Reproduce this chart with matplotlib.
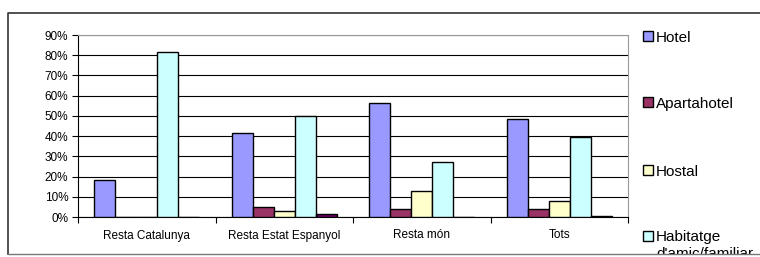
import matplotlib
matplotlib.use("Agg")
import matplotlib.pyplot as plt
import numpy as np
from matplotlib.patches import Rectangle
from matplotlib.lines import Line2D

plt.rcParams['font.family'] = ['Liberation Sans', 'DejaVu Sans']

categories = ['Resta Catalunya', 'Resta Estat Espanyol', 'Resta món', 'Tots']
series_names = ['Hotel', 'Apartahotel', 'Hostal', "Habitatge\nd'amic/familiar", 'Altres']
hotel = [18.2, 41.6, 56.3, 48.5]
apartahotel = [0.0, 4.8, 3.8, 4.1]
hostal = [0.0, 3.0, 13.0, 8.0]
habitatge = [81.8, 50.1, 27.0, 39.6]
altres = [0.0, 1.3, 0.0, 0.4]
colors = ['#9999FF', '#993366', '#FFFFCC', '#CCFFFF', '#660066']
yticks = [0, 10, 20, 30, 40, 50, 60, 70, 80, 90]

W, H = 760, 257
fig = plt.figure(figsize=(7.6, 2.57), dpi=100)

# plot area in pixels
left, right, top, bottom = 78, 628, 35, 217
ax = fig.add_axes([left / W, 1 - bottom / H, (right - left) / W, (bottom - top) / H])

all_series = [hotel, apartahotel, hostal, habitatge, altres]
n = len(all_series)
w = 0.1527
x = np.arange(len(categories)) + 0.5
for j, (vals, c) in enumerate(zip(all_series, colors)):
    ax.bar(x + (j - (n - 1) / 2) * w, vals, width=w, color=c,
           edgecolor='black', linewidth=1.0, zorder=3)

ax.set_xlim(0, len(categories))
ax.set_ylim(0, 90)
ax.set_yticks(yticks)
ax.set_yticklabels([f'{v}%' for v in yticks], fontsize=8.5)
ax.yaxis.grid(True, color='black', linewidth=0.8, zorder=0)
ax.set_axisbelow(True)

ax.set_xticks(np.arange(len(categories) + 1))
ax.set_xticklabels([])
ax.set_xticks(x, minor=True)
ax.set_xticklabels(categories, minor=True, fontsize=8.5)
ax.tick_params(axis='x', which='minor', length=0, pad=9)
ax.tick_params(axis='x', which='major', length=4, direction='out', color='black')
ax.tick_params(axis='y', length=4, direction='out', color='black', pad=3)

for s in ['top', 'right']:
    ax.spines[s].set_color('#999999')
for s in ['left', 'bottom']:
    ax.spines[s].set_color('black')

# legend (manual, clipped by outer frame like the original)
leg_y = [36, 102, 170, 236]
for name, c, yy in zip(series_names[:4], colors[:4], leg_y):
    fig.patches.append(Rectangle((643 / W, 1 - (yy + 5) / H), 10 / W, 10 / H,
                                 transform=fig.transFigure, facecolor=c,
                                 edgecolor='black', linewidth=1.0, zorder=2))
    for k, line in enumerate(name.split('\n')):
        fig.text(656 / W, 1 - (yy + 5.5 + 17 * k) / H, line, fontsize=11,
                 va='baseline', ha='left', zorder=2)

# cover below frame
fig.patches.append(Rectangle((0, 0), 1, 1 - 254 / H, transform=fig.transFigure,
                             facecolor='white', edgecolor='none', zorder=5))
# outer frame
fig.lines.append(Line2D([8 / W, 8 / W, 1], [1 - 254 / H, 1 - 13 / H, 1 - 13 / H],
                        transform=fig.transFigure, color='#333333', linewidth=1.2, zorder=6))
fig.lines.append(Line2D([8 / W, 1], [1 - 254 / H, 1 - 254 / H],
                        transform=fig.transFigure, color='#777777', linewidth=1.0, zorder=6))

fig.savefig('out.png', dpi=100)
